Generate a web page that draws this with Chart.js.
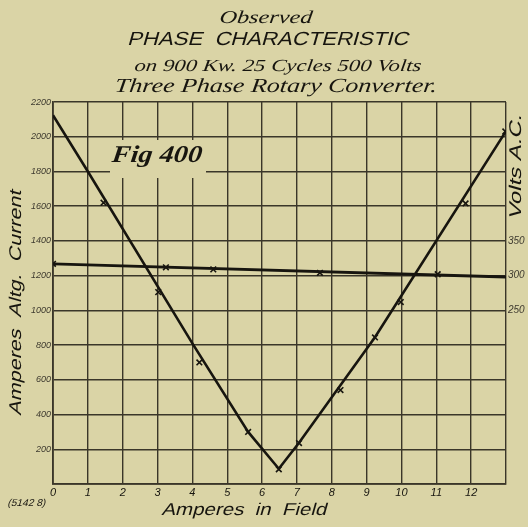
<!DOCTYPE html>
<html>
<head>
<meta charset="utf-8">
<script src="https://cdn.jsdelivr.net/npm/chart.js@4/dist/chart.umd.min.js"></script>
<style>
    html, body { margin: 0; padding: 0; background: #dad4a6; }
    #wrap { width: 528px; height: 527px; }
</style>
</head>
<body>
<div id="wrap"><canvas id="phase"></canvas></div>
<script>
// field amperes vs. alternating current, drawn curve
const curveField = [0, 1, 4, 5.6, 6.48, 7.05, 9.24, 13.0];
const curveAmps = [2124, 1800, 810, 300, 88, 235, 845, 2032];

// observed readings of current
const readField = [1.45, 3.02, 4.2, 5.6, 6.48, 7.06, 8.25, 9.24, 9.98, 11.84, 12.98];
const readAmps = [1620, 1105, 700, 300, 85, 236, 541, 844, 1048, 1616, 2030];

// a.c. volts, line and readings
const voltField = [0, 13];
const voltLine = [317, 298];
const voltReadField = [0, 3.24, 4.6, 7.66, 11.04];
const voltReads = [317, 312, 309, 304, 302];

const ampTicks = [200, 400, 600, 800, 1000, 1200, 1400, 1600, 1800, 2000, 2200];
const voltTicks = [250, 300, 350];
const fieldTicks = [0, 1, 2, 3, 4, 5, 6, 7, 8, 9, 10, 11, 12];

const PAPER = "#dad4a6";
const INK = "#17150f";
const GRID = "#3a3629";

function pts(xs, ys) {
    return xs.map((x, i) => ({ x, y: ys[i] }));
}

// draw text squeezed or stretched to a given width, slanted like the hand lettering
function fitText(ctx, text, cx, cy, width, font, rotate, slant) {
    ctx.save();
    ctx.font = font;
    ctx.textAlign = "center";
    ctx.textBaseline = "middle";
    ctx.fillStyle = INK;
    ctx.translate(cx, cy);
    if (rotate) ctx.rotate(rotate);
    const w = ctx.measureText(text).width;
    ctx.transform(1, 0, slant === undefined ? -0.12 : slant, 1, 0, 0);
    ctx.scale(width / w, 1);
    ctx.fillText(text, 0, 0);
    ctx.restore();
}

const paperPlugin = {
    id: "paper",
    beforeDraw(chart) {
        const ctx = chart.ctx;
        ctx.save();
        ctx.fillStyle = PAPER;
        ctx.fillRect(0, 0, chart.width, chart.height);
        ctx.restore();
    },
    beforeDatasetsDraw(chart) {
        // clear patch under the figure number
        const ctx = chart.ctx;
        ctx.save();
        ctx.fillStyle = PAPER;
        ctx.fillRect(110, 140, 96, 38);
        ctx.restore();
        fitText(ctx, "Fig 400", 157, 156, 90, "italic bold 24px 'Liberation Serif'");
    },
    afterDraw(chart) {
        const ctx = chart.ctx;
        const sans = -0.28;
        fitText(ctx, "Observed", 266, 18, 93, "italic 18px 'Liberation Serif'");
        fitText(ctx, "PHASE  CHARACTERISTIC", 269, 40, 281, "19px 'Liberation Sans'", 0, sans);
        fitText(ctx, "on 900 Kw. 25 Cycles 500 Volts", 278, 67, 287, "italic 17px 'Liberation Serif'");
        fitText(ctx, "Three Phase Rotary Converter.", 276, 87, 322, "italic 20px 'Liberation Serif'");

        fitText(ctx, "Amperes  Altg.  Current", 16, 302, 225, "17px 'Liberation Sans'", -Math.PI / 2, sans);
        fitText(ctx, "Volts A.C.", 516, 166, 105, "17px 'Liberation Sans'", -Math.PI / 2, sans);
        fitText(ctx, "Amperes  in  Field", 245, 510, 165, "17px 'Liberation Sans'", 0, sans);
        fitText(ctx, "(5142 8)", 27, 503, 38, "10px 'Liberation Sans'", 0, sans);
    }
};

const ctx = document.getElementById("phase").getContext("2d");
new Chart(ctx, {
    type: "line",
    data: {
        datasets: [{
            data: pts(curveField, curveAmps),
            borderColor: INK,
            borderWidth: 2.6,
            pointRadius: 0,
            tension: 0,
            yAxisID: "y"
        }, {
            data: pts(readField, readAmps),
            showLine: false,
            pointStyle: "crossRot",
            pointRadius: 4,
            borderColor: INK,
            pointBorderWidth: 1.6,
            yAxisID: "y"
        }, {
            data: pts(voltField, voltLine),
            borderColor: INK,
            borderWidth: 2.8,
            pointRadius: 0,
            yAxisID: "y2"
        }, {
            data: pts(voltReadField, voltReads),
            showLine: false,
            pointStyle: "crossRot",
            pointRadius: 4,
            borderColor: INK,
            pointBorderWidth: 1.6,
            yAxisID: "y2"
        }]
    },
    options: {
        responsive: true,
        maintainAspectRatio: false,
        animation: false,
        layout: { padding: { top: 102, left: 0, right: 0, bottom: 0 } },
        plugins: {
            legend: { display: false },
            tooltip: { enabled: false }
        },
        scales: {
            x: {
                type: "linear",
                min: 0,
                max: 13,
                afterFit: (s) => { s.height = 43; },
                afterBuildTicks: (s) => { s.ticks = fieldTicks.concat([13]).map(v => ({ value: v })); },
                grid: { color: GRID, lineWidth: 1.4, drawTicks: false },
                border: { color: GRID, width: 1.8 },
                ticks: {
                    autoSkip: false,
                    maxRotation: 0,
                    padding: 2,
                    color: INK,
                    font: { family: "Liberation Sans", style: "italic", size: 11 },
                    callback: (v) => fieldTicks.includes(v) ? String(v) : ""
                }
            },
            y: {
                min: 0,
                max: 2200,
                afterFit: (s) => { s.width = 53; },
                afterBuildTicks: (s) => { s.ticks = [0].concat(ampTicks).map(v => ({ value: v })); },
                grid: { color: GRID, lineWidth: 1.4, drawTicks: false },
                border: { color: GRID, width: 1.8 },
                ticks: {
                    padding: 2,
                    color: "#3e3a2f",
                    font: { family: "Liberation Sans", style: "italic", size: 9 },
                    callback: (v) => ampTicks.includes(v) ? String(v) : ""
                }
            },
            y2: {
                position: "right",
                min: 0,
                max: 550,
                afterFit: (s) => { s.width = 22; },
                afterBuildTicks: (s) => { s.ticks = voltTicks.map(v => ({ value: v })); },
                grid: { drawOnChartArea: false, drawTicks: false },
                border: { display: false },
                ticks: {
                    padding: 2,
                    color: "#3e3a2f",
                    font: { family: "Liberation Sans", style: "italic", size: 10 },
                    callback: (v) => String(v)
                }
            }
        }
    },
    plugins: [paperPlugin]
});
</script>
</body>
</html>
